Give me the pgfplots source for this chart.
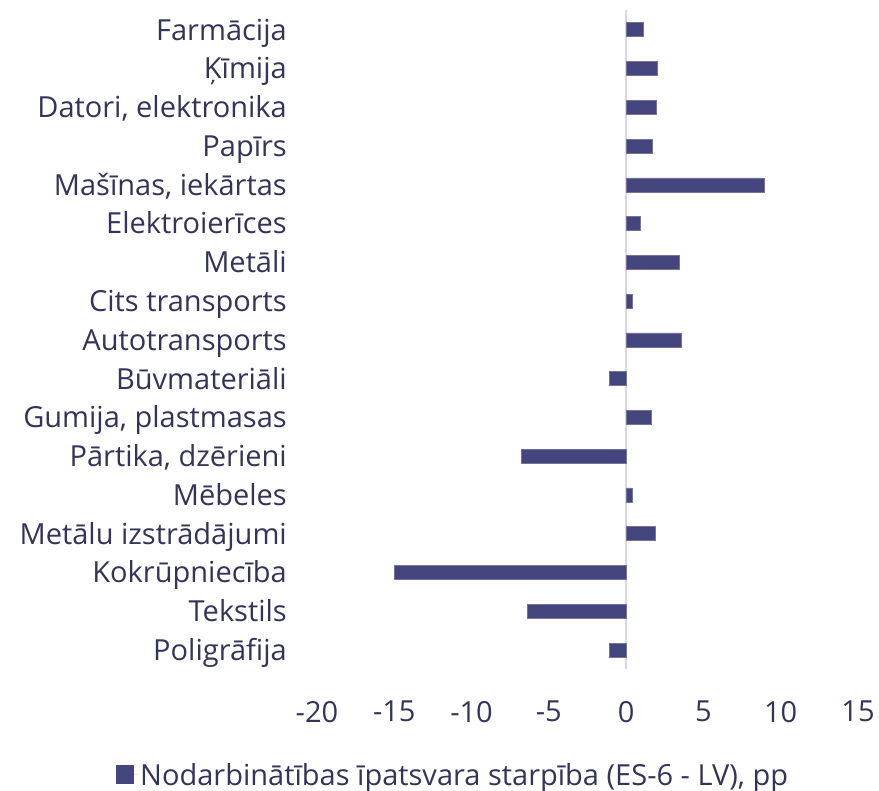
\documentclass[border=0pt]{standalone}
\usepackage{pgfplots}
\pgfplotsset{compat=1.18}
\usepackage{fontspec}
\setmainfont{Open Sans}
\definecolor{barc}{RGB}{68,69,125}
\definecolor{txt}{RGB}{52,52,90}
\definecolor{zl}{RGB}{215,215,232}
\pgfplotstableread{
i v
0 1.14
1 2.04
2 1.93
3 1.69
4 8.94
5 0.91
6 3.46
7 0.41
8 3.55
9 -1.08
10 1.6
11 -6.78
12 0.39
13 1.86
14 -15.0
15 -6.39
16 -1.06
}\datatab
\begin{document}
\begin{tikzpicture}
\begin{axis}[
 scale only axis, width=541pt, height=659pt,
 xmin=-20, xmax=15, ymin=-0.5, ymax=16.5, y dir=reverse,
 xbar, bar width=14pt,
 axis line style={draw=none},
 xtick={-20,-15,...,15}, xticklabels={-20,-15,-10,-5,0,5,10,15},
 ytick={0,...,16},
 yticklabels={Farmācija,Ķīmija,{Datori, elektronika},Papīrs,{Mašīnas, iekārtas},Elektroierīces,Metāli,Cits transports,Autotransports,Būvmateriāli,{Gumija, plastmasas},{Pārtika, dzērieni},Mēbeles,Metālu izstrādājumi,Kokrūpniecība,Tekstils,Poligrāfija},
 major tick length=0pt,
 tick label style={font=\fontsize{29}{34}\selectfont, text=txt},
 yticklabel style={anchor=east, inner sep=0pt, xshift=-30pt, text height=20.7pt, text depth=0pt},
 xticklabel style={anchor=north, inner sep=0pt, yshift=-31.6pt},
 extra x ticks={0}, extra x tick labels={},
 extra x tick style={grid=major, major grid style={zl, line width=2pt}},
 legend style={at={(-0.3715,-0.160)}, anchor=west, draw=none, fill=none, inner sep=0pt,
   font=\fontsize{29}{34}\selectfont, text=txt, legend cell align=left},
 legend image code/.code={\fill[barc, draw=none] (0pt,-9.5pt) rectangle (18pt,9.5pt); \path[draw=none] (0pt,0pt) -- (22pt,0pt);},
]
\addplot[fill=barc, draw=barc!75!white, line width=0.6pt] table[x=v,y=i] {\datatab};
\addlegendentry{Nodarbinātības īpatsvara starpība (ES-6 - LV), pp}
\end{axis}
\pgfresetboundingbox
\path (-317pt,-121.6pt) rectangle (562pt,669.4pt);
\end{tikzpicture}
\end{document}
